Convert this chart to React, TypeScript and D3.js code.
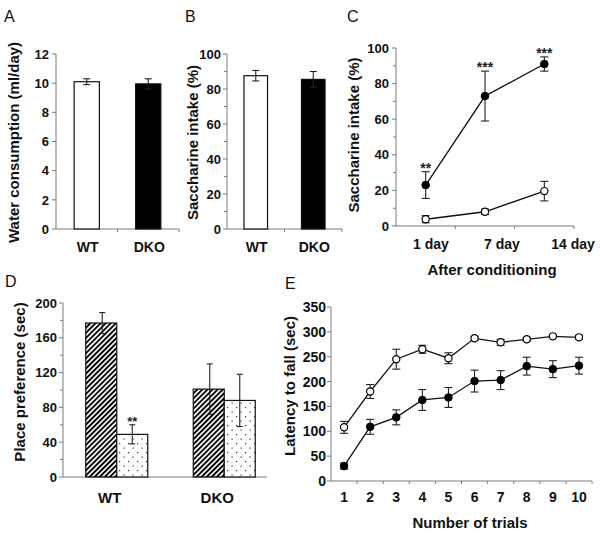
import React from 'react';
import * as d3 from 'd3';

const FONT = "'Liberation Sans', Arial, Helvetica, sans-serif";
const AXIS = '#7a7a7a';

// Panel A – water consumption
const groupsAB = ['WT', 'DKO'];
const waterMean = [10.1, 9.95];
const waterErr = [0.2, 0.35];
const waterTicks = [0, 2, 4, 6, 8, 10, 12];
// Panel B – saccharine intake
const sacMean = [87.6, 85.5];
const sacErr = [3, 4.5];
const sacTicks = [0, 20, 40, 60, 80, 100];
// Panel C – after conditioning
const days = ['1 day', '7 day', '14 day'];
const cDKO = [23, 73, 91];
const cDKOErr = [7.5, 14, 4];
const cWT = [3.8, 8, 19.6];
const cWTErr = [2, 1.5, 5.5];
const cStars = ['**', '***', '***'];
const cTicks = [0, 20, 40, 60, 80, 100];
// Panel D – place preference
const dGroups = ['WT', 'DKO'];
const dHatched = [177, 101];
const dHatchedErr = [12, 29];
const dDotted = [49, 88];
const dDottedErr = [11, 30];
const dStars = ['**', ''];
const dTicks = [0, 40, 80, 120, 160, 200];
// Panel E – rotarod
const trials = ['1', '2', '3', '4', '5', '6', '7', '8', '9', '10'];
const eWT = [108, 180, 245, 265, 247, 287, 279, 285, 291, 289];
const eWTErr = [12, 14, 20, 8, 11, 4, 6, 4, 3, 4];
const eDKO = [30, 109, 128, 163, 168, 201, 203, 231, 225, 232];
const eDKOErr = [6, 15, 15, 21, 20, 22, 19, 18, 17, 17];
const eTicks = [0, 50, 100, 150, 200, 250, 300, 350];

type Lin = d3.ScaleLinear<number, number>;

function YAxis({ y, x, ticks, minor, fs, off }: { y: Lin; x: number; ticks: number[]; minor: boolean; fs: number; off: number }) {
  const step = ticks[1] - ticks[0];
  const minors = minor ? ticks.slice(0, -1).map(t => t + step / 2) : [];
  return (
    <g>
      <line x1={x} x2={x} y1={y(ticks[0])} y2={y(ticks[ticks.length - 1])} stroke={AXIS} strokeWidth={1} />
      {ticks.map(t => (
        <g key={t}>
          <line x1={x - 4} x2={x} y1={y(t)} y2={y(t)} stroke={AXIS} />
          <text x={x - off} y={y(t)} dy="0.36em" textAnchor="end" fontSize={fs} fontWeight="bold" fontFamily={FONT} fill="#111">{t}</text>
        </g>
      ))}
      {minors.map(t => (
        <line key={'m' + t} x1={x - 3} x2={x} y1={y(t)} y2={y(t)} stroke={AXIS} />
      ))}
    </g>
  );
}

function YLabel({ x, y, text }: { x: number; y: number; text: string }) {
  return (
    <text transform={`translate(${x},${y}) rotate(-90)`} dy="0.36em" textAnchor="middle" fontSize={15} fontWeight="bold" fontFamily={FONT} fill="#111">{text}</text>
  );
}

function Letter({ x, y, t }: { x: number; y: number; t: string }) {
  return <text x={x} y={y} fontSize={16} fontFamily={FONT} fill="#111">{t}</text>;
}

function ErrBar({ x, y0, y1, cap }: { x: number; y0: number; y1: number; cap: number }) {
  return (
    <g stroke="#222" strokeWidth={1.1}>
      <line x1={x} x2={x} y1={y0} y2={y1} />
      <line x1={x - cap / 2} x2={x + cap / 2} y1={y0} y2={y0} />
      <line x1={x - cap / 2} x2={x + cap / 2} y1={y1} y2={y1} />
    </g>
  );
}

function SimpleBars({ range, y, mean, err, ticks, label, lblX, minor, off }: { range: [number, number]; y: Lin; mean: number[]; err: number[]; ticks: number[]; label: string; lblX: number; minor: boolean; off: number }) {
  const x = d3.scaleBand<string>().domain(groupsAB).range(range).padding(0);
  const bw = x.bandwidth() * 0.41;
  const base = y(0);
  const bounds = d3.range(groupsAB.length + 1).map(i => range[0] + i * x.step());
  return (
    <g>
      <YLabel x={lblX} y={(y(0) + y(ticks[ticks.length - 1])) / 2 + 1} text={label} />
      <line x1={range[0]} x2={range[1]} y1={base} y2={base} stroke={AXIS} />
      {bounds.slice(1).map(b => <line key={b} x1={b} x2={b} y1={base} y2={base + 3} stroke={AXIS} />)}
      <YAxis y={y} x={range[0]} ticks={ticks} minor={minor} fs={13} off={off} />
      {groupsAB.map((g, i) => {
        const cx = (x(g) as number) + x.bandwidth() / 2;
        return (
          <g key={g}>
            <rect x={cx - bw / 2} y={y(mean[i])} width={bw} height={base - y(mean[i])} fill={i === 0 ? '#fff' : '#000'} stroke="#111" strokeWidth={1.2} />
            <ErrBar x={cx} y0={y(mean[i] + err[i])} y1={y(mean[i] - err[i])} cap={7} />
            <text x={cx + 1} y={252} textAnchor="middle" fontSize={14} fontWeight="bold" fontFamily={FONT} fill="#111">{g}</text>
          </g>
        );
      })}
    </g>
  );
}

function PanelC() {
  const y = d3.scaleLinear().domain([0, 100]).range([226, 48]);
  const x = d3.scaleBand<string>().domain(days).range([396, 574]).padding(0);
  const lx = d3.scalePoint<string>().domain(days).range([431, 573]);
  const cx = (d: string) => (x(d) as number) + x.bandwidth() / 2;
  const line = d3.line<number>().x((_, i) => cx(days[i])).y(v => y(v));
  const bounds = d3.range(days.length + 1).map(i => 396 + i * x.step());
  return (
    <g>
      <Letter x={347} y={22} t="C" />
      <YLabel x={354} y={135} text="Saccharine intake (%)" />
      <line x1={396} x2={574} y1={y(0)} y2={y(0)} stroke={AXIS} />
      {bounds.slice(1).map(b => <line key={b} x1={b} x2={b} y1={y(0)} y2={y(0) + 3} stroke={AXIS} />)}
      <YAxis y={y} x={396} ticks={cTicks} minor={true} fs={13} off={7} />
      <path d={line(cDKO) as string} fill="none" stroke="#111" strokeWidth={1.3} />
      <path d={line(cWT) as string} fill="none" stroke="#111" strokeWidth={1.3} />
      {days.map((d, i) => (
        <g key={d}>
          <ErrBar x={cx(d)} y0={y(cDKO[i] + cDKOErr[i])} y1={y(cDKO[i] - cDKOErr[i])} cap={8} />
          <ErrBar x={cx(d)} y0={y(cWT[i] + cWTErr[i])} y1={y(cWT[i] - cWTErr[i])} cap={8} />
          <circle cx={cx(d)} cy={y(cDKO[i])} r={3.8} fill="#000" stroke="#000" />
          <circle cx={cx(d)} cy={y(cWT[i])} r={3.6} fill="#fff" stroke="#000" strokeWidth={1.2} />
          <text x={cx(d)} y={y(cDKO[i] + cDKOErr[i]) + 1} textAnchor="middle" fontSize={14} fontWeight="bold" fontFamily={FONT} fill="#222">{cStars[i]}</text>
          <text x={lx(d)} y={249} textAnchor="middle" fontSize={14} fontWeight="bold" fontFamily={FONT} fill="#111">{d}</text>
        </g>
      ))}
      <text x={492} y={275} textAnchor="middle" fontSize={15} fontWeight="bold" fontFamily={FONT} fill="#111">After conditioning</text>
    </g>
  );
}

function PanelD() {
  const y = d3.scaleLinear().domain([0, 200]).range([477, 303]);
  const x = d3.scalePoint<string>().domain(dGroups).range([63, 278]).padding(0.5);
  const bw = 31;
  const base = y(0);
  return (
    <g>
      <Letter x={5} y={287} t="D" />
      <YLabel x={20} y={382} text="Place preference (sec)" />
      <line x1={63} x2={267} y1={base} y2={base} stroke={AXIS} />
      <YAxis y={y} x={63} ticks={dTicks} minor={true} fs={13} off={6} />
      {dGroups.map((g, i) => {
        const c = x(g) as number;
        return (
          <g key={g}>
            <rect x={c - bw} y={y(dHatched[i])} width={bw} height={base - y(dHatched[i])} fill="url(#hatch)" stroke="#111" strokeWidth={1.2} />
            <rect x={c} y={y(dDotted[i])} width={bw} height={base - y(dDotted[i])} fill="url(#dots)" stroke="#111" strokeWidth={1.2} />
            <ErrBar x={c - bw / 2 + 1} y0={y(dHatched[i] + dHatchedErr[i])} y1={y(dHatched[i] - dHatchedErr[i])} cap={6} />
            <ErrBar x={c + bw / 2} y0={y(dDotted[i] + dDottedErr[i])} y1={y(dDotted[i] - dDottedErr[i])} cap={6} />
            <text x={c + bw / 2} y={y(dDotted[i] + dDottedErr[i]) + 1} textAnchor="middle" fontSize={13} fontWeight="bold" fontFamily={FONT} fill="#222">{dStars[i]}</text>
            <text x={c - 7} y={503} textAnchor="middle" fontSize={15} fontWeight="bold" fontFamily={FONT} fill="#111">{g}</text>
          </g>
        );
      })}
    </g>
  );
}

function PanelE() {
  const y = d3.scaleLinear().domain([0, 350]).range([481, 307]);
  const x = d3.scaleBand<string>().domain(trials).range([331, 592]).padding(0);
  const cx = (d: string) => (x(d) as number) + x.bandwidth() / 2;
  const line = d3.line<number>().x((_, i) => cx(trials[i])).y(v => y(v));
  const base = y(0);
  const bounds = d3.range(trials.length + 1).map(i => 331 + i * x.step());
  return (
    <g>
      <Letter x={285} y={289} t="E" />
      <YLabel x={290} y={386} text="Latency to fall (sec)" />
      <line x1={331} x2={592} y1={base} y2={base} stroke={AXIS} />
      {bounds.slice(1).map(b => <line key={b} x1={b} x2={b} y1={base} y2={base + 3} stroke={AXIS} />)}
      <YAxis y={y} x={331} ticks={eTicks} minor={false} fs={14} off={5} />
      <path d={line(eDKO) as string} fill="none" stroke="#111" strokeWidth={1.3} />
      <path d={line(eWT) as string} fill="none" stroke="#111" strokeWidth={1.3} />
      {trials.map((d, i) => (
        <g key={d}>
          <ErrBar x={cx(d)} y0={y(eDKO[i] + eDKOErr[i])} y1={y(eDKO[i] - eDKOErr[i])} cap={8} />
          <ErrBar x={cx(d)} y0={y(eWT[i] + eWTErr[i])} y1={y(eWT[i] - eWTErr[i])} cap={8} />
          <circle cx={cx(d)} cy={y(eDKO[i])} r={3.8} fill="#000" stroke="#000" />
          <circle cx={cx(d)} cy={y(eWT[i])} r={3.6} fill="#fff" stroke="#000" strokeWidth={1.2} />
          <text x={cx(d)} y={502} textAnchor="middle" fontSize={14} fontWeight="bold" fontFamily={FONT} fill="#111">{d}</text>
        </g>
      ))}
      <text x={470} y={528} textAnchor="middle" fontSize={15} fontWeight="bold" fontFamily={FONT} fill="#111">Number of trials</text>
    </g>
  );
}

export default function App() {
  const yA = d3.scaleLinear().domain([0, 12]).range([229, 54]);
  const yB = d3.scaleLinear().domain([0, 100]).range([229, 54]);
  return (
    <svg width={600} height={539} style={{ position: 'absolute', left: 0, top: 0, background: '#fff' }}>
      <defs>
        <pattern id="hatch" patternUnits="userSpaceOnUse" width={3.6} height={3.6} patternTransform="rotate(45)">
          <rect x={0} y={0} width={1.9} height={3.6} fill="#000" />
        </pattern>
        <pattern id="dots" patternUnits="userSpaceOnUse" width={9} height={9}>
          <rect width={9} height={9} fill="#fff" />
          <rect x={2} y={2} width={1.2} height={1.2} fill="#333" />
          <rect x={6.5} y={6.5} width={1.2} height={1.2} fill="#333" />
        </pattern>
      </defs>
      <rect width={600} height={539} fill="#fff" />
      <Letter x={4} y={22} t="A" />
      <SimpleBars range={[56, 179]} y={yA} mean={waterMean} err={waterErr} ticks={waterTicks} label="Water consumption (ml/day)" lblX={14} minor={false} off={7} />
      <Letter x={185} y={22} t="B" />
      <SimpleBars range={[227, 342]} y={yB} mean={sacMean} err={sacErr} ticks={sacTicks} label="Saccharine intake (%)" lblX={193} minor={true} off={6} />
      <PanelC />
      <PanelD />
      <PanelE />
    </svg>
  );
}
